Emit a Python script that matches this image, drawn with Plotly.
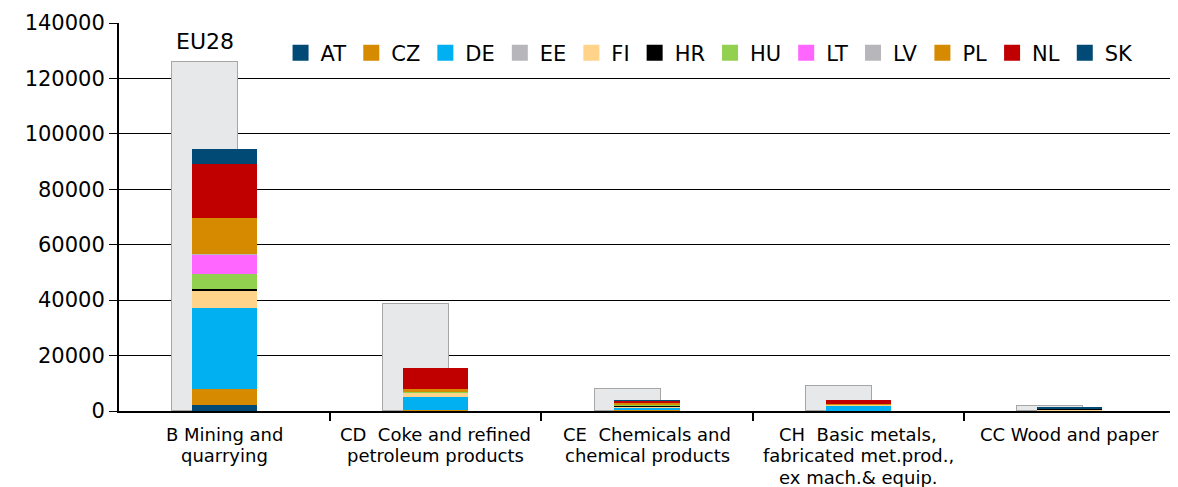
import plotly.graph_objects as go

categories = [["B Mining and", "quarrying"],
              ["CD  Coke and refined", "petroleum products"],
              ["CE  Chemicals and", "chemical products"],
              ["CH  Basic metals,", "fabricated met.prod.,", "ex mach.& equip."],
              ["CC Wood and paper"]]
eu28 = [126000, 38500, 7900, 9200, 1900]

countries = ["AT", "CZ", "DE", "EE", "FI", "HR", "HU", "LT", "LV", "PL", "NL", "SK"]
AT = [2300, 0, 100, 0, 300]
CZ = [5500, 300, 300, 100, 0]
DE = [29200, 4900, 900, 1800, 0]
EE = [0, 0, 0, 0, 0]
FI = [6300, 1300, 500, 300, 200]
HR = [800, 0, 100, 0, 500]
HU = [5200, 700, 600, 0, 0]
LT = [7200, 0, 0, 0, 0]
LV = [300, 0, 0, 0, 0]
PL = [13000, 700, 600, 400, 0]
NL = [19300, 7600, 700, 1300, 0]
SK = [5500, 0, 100, 0, 300]
series = [AT, CZ, DE, EE, FI, HR, HU, LT, LV, PL, NL, SK]
colors = ["#004A75", "#D68A00", "#00B0F0", "#B7B7BB", "#FFD48A", "#000000",
          "#92D050", "#FF66FF", "#B7B7BB", "#D68A00", "#C00000", "#004A75"]

y_ticks = [0, 20000, 40000, 60000, 80000, 100000, 120000, 140000]

font_main = "DejaVu Sans, Liberation Sans, Arial, sans-serif"

xs = list(range(len(categories)))
fig = go.Figure()
fig.add_trace(go.Bar(x=[i - 0.092 for i in xs], y=eu28, width=0.312, name="EU28",
                     marker=dict(color="#E7E8EA", line=dict(color="#A6A6A6", width=1.5)),
                     showlegend=False))
for name, vals, col in zip(countries, series, colors):
    fig.add_trace(go.Bar(x=xs, y=vals, width=0.308, name=name, legendgroup=name,
                         showlegend=False,
                         marker=dict(color=col, line=dict(width=0))))
# legend entries with larger square keys
for name, col in zip(countries, colors):
    fig.add_trace(go.Scatter(x=[None], y=[None], mode="markers", name=name,
                             legendgroup=name,
                             marker=dict(symbol="square", size=16, color=col)))

fig.add_annotation(x=-0.092, y=eu28[0], text="EU28", showarrow=False, yanchor="bottom",
                   yshift=6, font=dict(size=22, color="black", family=font_main))

for i, lines in enumerate(categories):
    for k, line in enumerate(lines):
        fig.add_annotation(x=i, xref="x", y=0, yref="paper", text=line, showarrow=False,
                           yanchor="middle", yshift=-23 - 21.5 * k,
                           font=dict(size=18, color="black", family=font_main))

fig.update_layout(
    barmode="stack",
    width=1170, height=479,
    margin=dict(l=111, r=3, t=12, b=76),
    plot_bgcolor="white", paper_bgcolor="white",
    font=dict(family=font_main, color="black"),
    legend=dict(orientation="h", x=0.153, xanchor="left", y=0.975, yanchor="top",
                itemwidth=30,
                font=dict(size=21, family=font_main),
                bgcolor="rgba(0,0,0,0)", traceorder="normal"),
    bargap=0,
)
fig.update_yaxes(range=[0, 140000], tickvals=y_ticks, ticktext=[str(v) for v in y_ticks],
                 showgrid=True, gridcolor="black", gridwidth=1,
                 showline=True, linecolor="black", linewidth=2,
                 ticks="outside", ticklen=8, tickcolor="black",
                 tickfont=dict(size=21), ticklabeloverflow="allow", zeroline=False)
fig.update_xaxes(range=[-0.5, len(categories) - 0.5], tickvals=xs,
                 showticklabels=False, ticks="",
                 showline=True, linecolor="black", linewidth=2,
                 showgrid=False, zeroline=False,
                 minor=dict(tickvals=[0.5, 1.5, 2.5, 3.5], ticks="outside", ticklen=8,
                            tickcolor="black", tickwidth=1.5, showgrid=False))

fig.write_html("out.html")
